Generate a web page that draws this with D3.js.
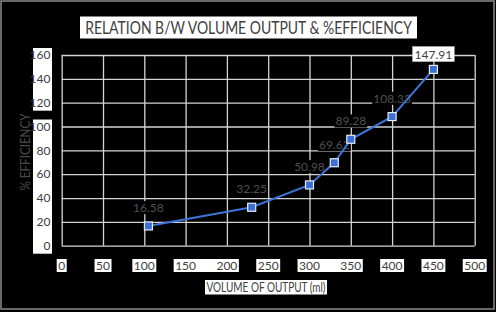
<!DOCTYPE html>
<html><head><meta charset="utf-8">
<script src="https://cdn.jsdelivr.net/npm/d3@7"></script>
<style>
html,body{margin:0;padding:0;background:#000;}
svg{display:block;}
text{font-family:"Liberation Sans Narrow","Lato",sans-serif;}
</style></head>
<body>
<script>
// ---- data ----
const volumes = [105, 230, 300, 330, 350, 400, 450];
const efficiency = [16.58, 32.25, 50.98, 69.62, 89.28, 108.33, 147.91];
const pointLabels = ["16.58", "32.25", "50.98", "69.62", "89.28", "108.33", "147.91"];
const xTicks = [0, 50, 100, 150, 200, 250, 300, 350, 400, 450, 500];
const yTicks = [0, 20, 40, 60, 80, 100, 120, 140, 160];
const titleText = "RELATION B/W VOLUME OUTPUT & %EFFICIENCY";
const xTitle = "VOLUME OF OUTPUT (ml)";
const yTitle = "% EFFICIENCY";
// label box groupings (style)
const xBoxGroups = [[0],[50],[100],[150,200],[250],[300,350],[400],[450],[500]];
const yBoxGroups = [[120,160],[0,100]];

const W = 496, H = 312;
const svg = d3.select("body").append("svg").attr("width", W).attr("height", H);
svg.append("rect").attr("width", W).attr("height", H).attr("fill", "#000");
svg.append("rect").attr("x", 1).attr("y", 1).attr("width", W - 3).attr("height", H - 4)
  .attr("fill", "none").attr("stroke", "#8a8a8a").attr("stroke-width", 1.5);

const x = d3.scaleLinear().domain([0, 500]).range([61.7, 474.7]);
const y = d3.scaleLinear().domain([0, 160]).range([245.7, 55]);

// draw a horizontally condensed text centred at (cx, cy) with a target width
function condensedText(cx, cy, str, size, target, fill, rotate) {
  const g = svg.append("g");
  const t = g.append("text").attr("text-anchor", "middle").attr("dy", "0.35em")
    .attr("font-size", size).attr("fill", fill).text(str);
  const w = t.node().getComputedTextLength();
  const s = w > 0 ? Math.min(1, target / w) : 1;
  g.attr("transform", `translate(${cx},${cy})${rotate ? " rotate(-90)" : ""} scale(${s},1)`);
  return t;
}

// grid
const gx = svg.append("g").attr("transform", `translate(0,${y(0)})`)
  .call(d3.axisBottom(x).tickValues(xTicks).tickSize(-(y(0) - y(160))).tickFormat(""));
const gy = svg.append("g").attr("transform", `translate(${x(0)},0)`)
  .call(d3.axisLeft(y).tickValues(yTicks).tickSize(-(x(500) - x(0))).tickFormat(""));
[gx, gy].forEach(g => {
  g.select(".domain").remove();
  g.selectAll(".tick line").attr("stroke", "#d4d4d4").attr("stroke-width", 1.3);
});

// y tick labels with white boxes
const yLab = svg.append("g");
yBoxGroups.forEach(([a, b]) => {
  yLab.append("rect").attr("x", 33).attr("width", 19)
    .attr("y", y(b) - 7).attr("height", (y(a) + 8) - (y(b) - 7)).attr("fill", "#fff");
});
yLab.selectAll("text.yl").data(yTicks).join("text").attr("class", "yl")
  .attr("x", 50.5).attr("y", d => y(d)).attr("dy", "0.35em").attr("text-anchor", "end")
  .attr("font-size", 12).attr("fill", "#404040").text(d => d);

// x tick labels with white boxes
const xLab = svg.append("g");
const xTexts = xLab.selectAll("text.xl").data(xTicks).join("text").attr("class", "xl")
  .attr("x", d => x(d)).attr("y", 265.5).attr("dy", "0.35em").attr("text-anchor", "middle")
  .attr("font-size", 12).attr("fill", "#404040").text(d => d);
const bb = {};
xTexts.each(function(d){ bb[d] = this.getBBox(); });
xBoxGroups.forEach(g => {
  const b0 = bb[g[0]], b1 = bb[g[g.length - 1]];
  xLab.insert("rect", "text").attr("x", b0.x - 1.5).attr("y", 259)
    .attr("width", (b1.x + b1.width + 1.5) - (b0.x - 1.5)).attr("height", 13).attr("fill", "#fff");
});

// title
svg.append("rect").attr("x", 80).attr("y", 16.5).attr("width", 337).attr("height", 22).attr("fill", "#fff");
condensedText(248.5, 27.5, titleText, 18, 327, "#404040");

// x title
svg.append("rect").attr("x", 205).attr("y", 280).attr("width", 122).attr("height", 14.5).attr("fill", "#fff");
condensedText(266, 287.3, xTitle, 14, 119, "#404040");

// y title
condensedText(25, 152, yTitle, 14, 77, "#4a4a4a", true);

const pts = volumes.map((v, i) => [v, efficiency[i], pointLabels[i]]);

// data labels (behind the line, as in the reference)
const dl = svg.append("g");
pts.forEach((d, i) => {
  if (i === pts.length - 1) return;
  const t = dl.append("text").attr("x", x(d[0])).attr("y", y(d[1]) - 18)
    .attr("dy", "0.35em").attr("text-anchor", "middle").attr("font-size", 12)
    .attr("fill", "#505050").text(d[2]);
  const b = t.node().getBBox();
  dl.insert("rect", "text").attr("x", b.x - 1).attr("y", b.y + 1).attr("width", b.width + 2)
    .attr("height", b.height - 2).attr("fill", "#000");
});

// line + markers
svg.append("path").datum(pts)
  .attr("d", d3.line().x(d => x(d[0])).y(d => y(d[1])))
  .attr("fill", "none").attr("stroke", "#3d74dc").attr("stroke-width", 2);
svg.selectAll("rect.mk").data(pts).join("rect").attr("class", "mk")
  .attr("x", d => x(d[0]) - 4).attr("y", d => y(d[1]) - 4).attr("width", 8).attr("height", 8)
  .attr("fill", "#3a6fd6").attr("stroke", "#e6ecf8").attr("stroke-width", 1.2);

// boxed label of the last point
const lp = pts[pts.length - 1];
const lg = svg.append("g");
const lt = lg.append("text").attr("x", x(lp[0])).attr("y", y(lp[1]) - 15)
  .attr("dy", "0.35em").attr("text-anchor", "middle").attr("font-size", 12)
  .attr("fill", "#404040").text(lp[2]);
const lb = lt.node().getBBox();
lg.insert("rect", "text").attr("x", lb.x - 2).attr("y", lb.y).attr("width", lb.width + 4)
  .attr("height", lb.height).attr("fill", "#fff").attr("stroke", "#bbb").attr("stroke-width", 0.6);
</script>
</body></html>
